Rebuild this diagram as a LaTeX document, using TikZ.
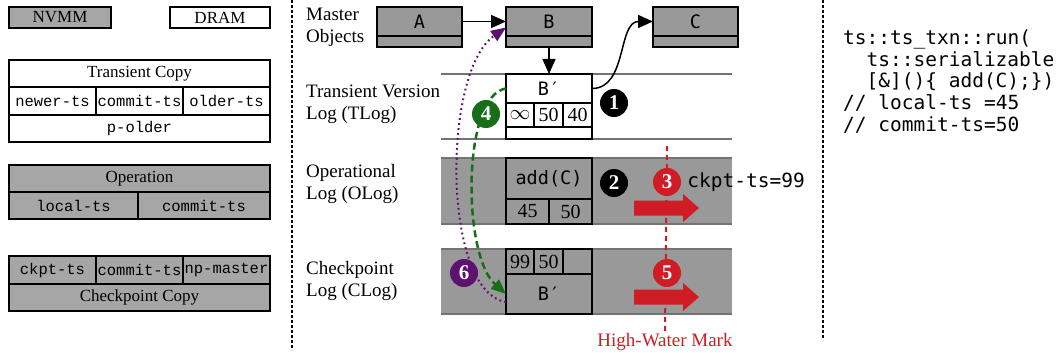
\documentclass[tikz,border=0pt]{standalone}
\usepackage{fontspec}
\setmainfont{Liberation Serif}
\newfontfamily\legmono{Liberation Mono}
\newfontfamily\codemono{DejaVu Sans Mono}
\usepackage{tikz}
\usetikzlibrary{positioning,calc,arrows.meta}

\definecolor{nvgray}{gray}{0.65}
\definecolor{loggray}{gray}{0.6}
\definecolor{hwmred}{RGB}{208,28,36}
\definecolor{stepgreen}{RGB}{24,110,24}
\definecolor{steppurple}{RGB}{92,18,110}

\newcommand\legfont{\fontsize{17}{20}\selectfont}
\newcommand\fieldfont{\legmono\fontsize{15.5}{18}\selectfont}
\newcommand\labfont{\fontsize{19}{22}\selectfont}
\newcommand\numfont{\fontsize{20}{22}\selectfont}
\newcommand\objfont{\codemono\fontsize{18.5}{20}\selectfont}
\newcommand\codefont{\codemono\fontsize{19.5}{21.5}\selectfont}
\newcommand\codeindent{\hspace*{1.2em}}

\tikzset{
	cell/.style 2 args={draw,line width=1.5pt,inner sep=0pt,outer sep=0pt,anchor=north west,minimum width=#1,minimum height=#2},
	loglabel/.style={anchor=west,align=left,font=\labfont,inner sep=0pt},
	logline/.style={draw=black!55,line width=1.5pt},
	sepline/.style={black,line width=2pt,dash pattern=on 3pt off 2pt},
	hwmline/.style={hwmred,line width=2pt,dash pattern=on 5pt off 4pt},
	objarrow/.style={draw=black,line width=1.5pt,-{Triangle[length=15pt,width=13pt]}},
	fixarrow/.style={stepgreen,line width=2.5pt,dash pattern=on 7pt off 4pt,-{Triangle[length=15pt,width=12pt]}},
	recarrow/.style={steppurple,line width=2pt,dash pattern=on 1.8pt off 3.2pt,-{Triangle[length=15pt,width=12pt]}},
	stepnum/.style={circle,fill=#1,text=white,inner sep=0pt,minimum size=28pt,font=\bfseries\fontsize{21}{21}\selectfont},
	codeline/.style={anchor=base west,font=\codefont,inner sep=0pt}
}

\begin{document}
\begin{tikzpicture}[x=1pt,y=-1pt]
\useasboundingbox (0,0) rectangle (1057,353);

%Legende
\node[cell={102pt}{21pt},fill=nvgray,font=\legfont] (nvmm) at (9,7) {NVMM};
\node[cell={100pt}{21pt},font=\legfont] (dram) at (170,7) {DRAM};

\node[cell={261pt}{27pt},font=\legfont] (tcopy) at (9,60) {Transient Copy};
\node[cell={87pt}{28pt},font=\fieldfont] (tnewer) at (9,87) {newer-ts};
\node[cell={87pt}{28pt},font=\fieldfont] (tcommit) at (96,87) {commit-ts};
\node[cell={87pt}{28pt},font=\fieldfont] (tolder) at (183,87) {older-ts};
\node[cell={261pt}{27pt},font=\fieldfont] (tpolder) at (9,115) {p-older};

\node[cell={261pt}{27pt},fill=nvgray,font=\legfont] (oper) at (9,165) {Operation};
\node[cell={129pt}{27pt},fill=nvgray,font=\fieldfont] (olts) at (9,192) {local-ts};
\node[cell={132pt}{27pt},fill=nvgray,font=\fieldfont] (octs) at (138,192) {commit-ts};

\node[cell={87pt}{28pt},fill=nvgray,font=\fieldfont] (kckpt) at (9,256) {ckpt-ts};
\node[cell={87pt}{28pt},fill=nvgray,font=\fieldfont] (kcommit) at (96,256) {commit-ts};
\node[cell={87pt}{28pt},fill=nvgray,font=\fieldfont] (knp) at (183,256) {np-master};
\node[cell={261pt}{27pt},fill=nvgray,font=\legfont] (kcopy) at (9,284) {Checkpoint Copy};

%Separateurs
\draw[sepline] (292,0) -- (292,350);
\draw[sepline] (823,0) -- (823,340);

%Noms des logs
\node[loglabel] (lmaster) at (306,27.5) {Master\\Objects};
\node[loglabel] (ltlog) at (306,104) {Transient Version\\Log (TLog)};
\node[loglabel] (lolog) at (306,184) {Operational\\Log (OLog)};
\node[loglabel] (lclog) at (306,281) {Checkpoint\\Log (CLog)};

%Bandes
\draw[logline] (441,74) -- (732,74);
\draw[logline] (441,139) -- (732,139);
\foreach \top/\bot in {158/224,249/314} {
	\fill[loggray] (441,\top) rectangle (732,\bot);
	\draw[logline] (441,\top) -- (732,\top);
	\draw[logline] (441,\bot) -- (732,\bot);
}

%Objets maitres
\node[cell={85pt}{29pt},fill=loggray,font=\objfont] (ma) at (377,7) {A};
\node[cell={85pt}{11pt},fill=loggray] (mal) at (377,36) {};
\node[cell={86pt}{29pt},fill=loggray,font=\objfont] (mb) at (506,7) {B};
\node[cell={86pt}{11pt},fill=loggray] (mbl) at (506,36) {};
\node[cell={85pt}{29pt},fill=loggray,font=\objfont] (mc) at (653,7) {C};
\node[cell={85pt}{11pt},fill=loggray] (mcl) at (653,36) {};

%TLog
\node[cell={86pt}{29pt},fill=white,font=\objfont] (tb) at (506,74) {B′};
\node[cell={28pt}{24pt},fill=white,font=\numfont] (tinf) at (506,103) {$\infty$};
\node[cell={29pt}{24pt},fill=white,font=\numfont] (tcts) at (534,103) {50};
\node[cell={29pt}{24pt},fill=white,font=\numfont] (tots) at (563,103) {40};
\node[cell={86pt}{12pt},fill=white] (tptr) at (506,127) {};

%OLog
\node[cell={86pt}{41pt},fill=loggray,font=\objfont] (oop) at (506,158) {add(C)};
\node[cell={43pt}{25pt},fill=loggray,font=\numfont] (olocal) at (506,199) {45};
\node[cell={43pt}{25pt},fill=loggray,font=\numfont] (ocommit) at (549,199) {50};

%CLog
\node[cell={28pt}{25pt},fill=loggray,font=\numfont] (cckpt) at (506,249) {99};
\node[cell={29pt}{25pt},fill=loggray,font=\numfont] (ccommit) at (534,249) {50};
\node[cell={29pt}{25pt},fill=loggray] (cnp) at (563,249) {};
\node[cell={86pt}{40pt},fill=loggray,font=\objfont] (cb) at (506,274) {B′};

%Fleches
\draw[objarrow] (ma) -- (mb);
\draw[objarrow] (mbl) -- (tb);
\draw[objarrow] (tb.east) to[out=0,in=180] (mc.west);

\draw[fixarrow] (tb.west) .. controls (462,95) and (462,255) .. (cb.west);
\draw[recarrow] ([yshift=-8pt]cb.west) .. controls (442,292) and (442,72) .. ([yshift=-6pt]mb.west);

%High-water mark
\coordinate (hwmtop) at (667,146);
\node[font=\labfont,text=hwmred,inner sep=2pt] (hwm) at (665,342) {High-Water Mark};
\draw[hwmline] (hwmtop) -- (hwm.north);
\foreach \ay in {208,297} {
	\fill[hwmred] (634,\ay-7.5) -- (683,\ay-7.5) -- (683,\ay-14) -- (699,\ay)
		-- (683,\ay+14) -- (683,\ay+7.5) -- (634,\ay+7.5) -- cycle;
}

%Etapes
\node[stepnum=black] (sone) at (614,103) {1};
\node[stepnum=black] (stwo) at (614,183) {2};
\node[stepnum=hwmred] (sthree) at (667,182) {3};
\node[stepnum=stepgreen] (sfour) at (486,114) {4};
\node[stepnum=hwmred] (sfive) at (667,273) {5};
\node[stepnum=steppurple] (ssix) at (464,273) {6};
\node[font=\codefont,inner sep=0pt,right=6pt of sthree] (ckptts) {ckpt-ts=99};

%Code
\node[codeline] (codea) at (843,45) {ts::ts\_txn::run(};
\node[codeline] (codeb) at (843,66.5) {\codeindent ts::serializable};
\node[codeline] (codec) at (843,88) {\codeindent [\&]()\{ add(C);\})};
\node[codeline] (coded) at (843,109.5) {// local-ts =45};
\node[codeline] (codee) at (843,131) {// commit-ts=50};

\end{tikzpicture}
\end{document}
